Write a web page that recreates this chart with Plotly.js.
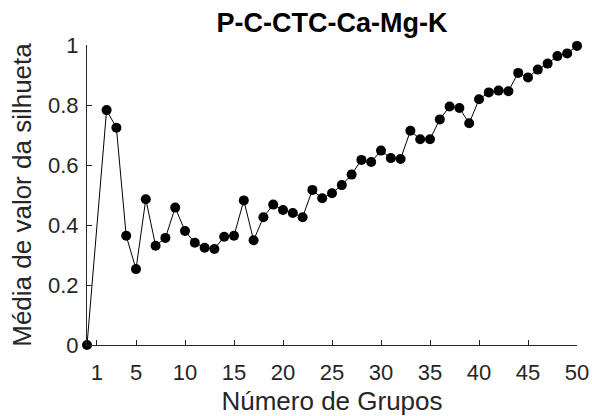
<!DOCTYPE html>
<html>
<head>
<meta charset="utf-8">
<script src="https://cdn.plot.ly/plotly-3.0.1.min.js"></script>
<style>html,body{margin:0;padding:0;background:#fff;}#chart{width:592px;height:416px;}</style>
</head>
<body>
<div id="chart"></div>
<script>
var grupos = [0, 2, 3, 4, 5, 6, 7, 8, 9, 10, 11, 12, 13, 14, 15, 16, 17, 18, 19, 20,
  21, 22, 23, 24, 25, 26, 27, 28, 29, 30, 31, 32, 33, 34, 35, 36, 37, 38, 39, 40,
  41, 42, 43, 44, 45, 46, 47, 48, 49, 50];
var silhueta = [0, 0.783, 0.724, 0.364, 0.253, 0.486, 0.331, 0.357, 0.458, 0.38,
  0.341, 0.324, 0.32, 0.361, 0.364, 0.482, 0.349, 0.426, 0.468, 0.45,
  0.44, 0.426, 0.517, 0.489, 0.506, 0.533, 0.568, 0.617, 0.61, 0.648,
  0.623, 0.62, 0.714, 0.686, 0.686, 0.752, 0.795, 0.79, 0.739, 0.819,
  0.842, 0.848, 0.846, 0.907, 0.892, 0.918, 0.938, 0.963, 0.972, 0.997];
var xTicks = [1, 5, 10, 15, 20, 25, 30, 35, 40, 45, 50];
var yTicks = [0, 0.2, 0.4, 0.6, 0.8, 1];
var yTickText = ['0', '0.2', '0.4', '0.6', '0.8', '1'];

var font = 'Liberation Sans, Arial, sans-serif';
var trace = {
  x: grupos, y: silhueta, type: 'scatter', mode: 'lines+markers',
  line: {color: '#000000', width: 1},
  marker: {color: '#000000', size: 10},
  cliponaxis: false, hoverinfo: 'none'
};
var axisCommon = {
  showline: true, linecolor: '#262626', linewidth: 1,
  ticks: 'inside', ticklen: 5, tickcolor: '#262626', tickwidth: 1,
  showgrid: false, zeroline: false,
  tickfont: {family: font, size: 22, color: '#262626'}
};
var layout = {
  width: 592, height: 416,
  margin: {l: 87, r: 15, t: 45, b: 71},
  paper_bgcolor: '#ffffff', plot_bgcolor: '#ffffff',
  showlegend: false,
  title: {text: '<b>P-C-CTC-Ca-Mg-K</b>', x: 0.5, xref: 'paper', y: 0.945, yref: 'container', yanchor: 'middle',
    font: {family: font, size: 27, color: '#000000'}},
  xaxis: Object.assign({}, axisCommon, {
    range: [0, 50], tickvals: xTicks, ticktext: xTicks.map(String),
    ticklabelstandoff: 8,
    title: {text: 'Número de Grupos', font: {family: font, size: 26, color: '#262626'}, standoff: 8}
  }),
  yaxis: Object.assign({}, axisCommon, {
    range: [0, 1], tickvals: yTicks, ticktext: yTickText,
    ticklabelstandoff: 3,
    title: {text: 'Média de valor da silhueta', font: {family: font, size: 26, color: '#262626'}, standoff: 8}
  })
};
Plotly.newPlot('chart', [trace], layout, {displayModeBar: false, staticPlot: true});
</script>
</body>
</html>
